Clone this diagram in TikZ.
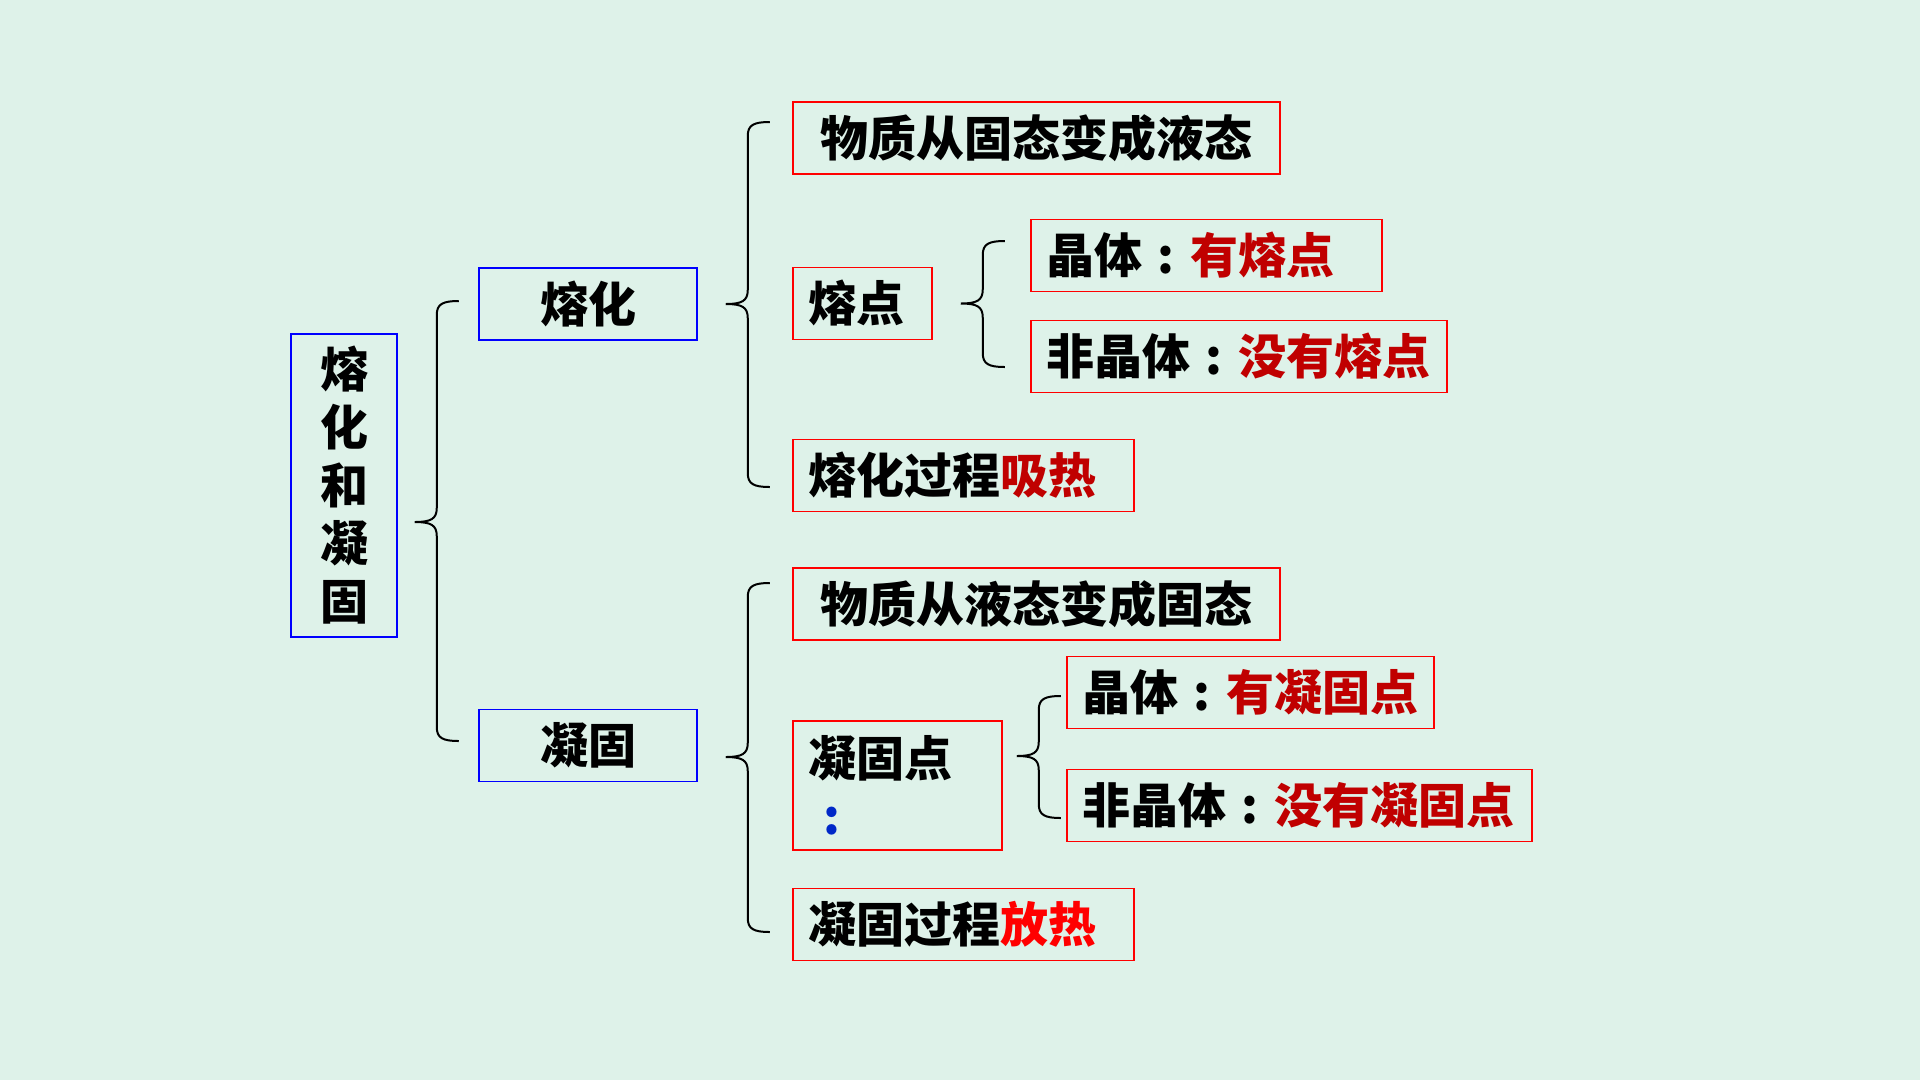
\documentclass[tikz,border=0pt]{standalone}
\usepackage{fontspec}
\setmainfont{Noto Sans CJK SC}[BoldFont={* Black}]
\usetikzlibrary{calc}

\definecolor{bgmint}{RGB}{222,242,233}
\definecolor{darkred}{RGB}{192,0,0}
\definecolor{colonblue}{RGB}{0,40,200}

\newcommand{\cn}{\makebox[1em]{:}}

\tikzset{
  every node/.style={font=\fontsize{48}{58}\selectfont\bfseries, inner ysep=0pt},
  bluebox/.style={draw=blue, line width=1.5pt, align=center, inner xsep=0pt},
  redbox/.style={draw=red, line width=1.5pt, minimum height=72pt, inner xsep=15pt, align=left},
  brace/.style={line width=2pt, black}
}

% parent, tip shift, top child, top shift, bottom child, bottom shift
\newcommand{\curly}[6]{%
\draw[brace] let \p1=($(#1.east)+(#2)$), \p2=($(#3.west)+(0,#4)$), \p3=($(#5.west)+(0,#6)$) in
(\x1,\y1) .. controls (\x1+16pt,\y1) and (\x1+22pt,\y1+3pt) .. (\x1+22pt,\y1+14pt)
-- (\x1+22pt,\y2-14pt) .. controls (\x1+22pt,\y2-3pt) and (\x1+28pt,\y2) .. (\x1+44pt,\y2)
(\x1,\y1) .. controls (\x1+16pt,\y1) and (\x1+22pt,\y1-3pt) .. (\x1+22pt,\y1-14pt)
-- (\x1+22pt,\y3+14pt) .. controls (\x1+22pt,\y3+3pt) and (\x1+28pt,\y3) .. (\x1+44pt,\y3);
}

\begin{document}
\begin{tikzpicture}[x=1pt, y=-1pt]

\fill[bgmint] (0,0) rectangle (1920,1080);
\useasboundingbox (0,0) rectangle (1920,1080);

\node[bluebox, minimum width=106pt, minimum height=303pt] (topic) at (344,485.5) {熔\\化\\和\\凝\\固};
\node[bluebox, minimum width=218pt, minimum height=72pt] (melt) at (588,304) {熔化};
\node[bluebox, minimum width=218pt, minimum height=72pt] (freeze) at (588,745.5) {凝固};

% melting
\node[redbox, text width=457pt, align=center] (meltdef) at (1036.5,138) {物质从固态变成液态};
\node[redbox, text width=109pt] (meltpt) at (862.5,303.5) {熔点};
\node[redbox, text width=321pt] (crys1) at (1206.5,255.5) {晶体\cn\textcolor{darkred}{有熔点}};
\node[redbox, text width=386pt] (amor1) at (1239,356.5) {非晶体\cn\textcolor{darkred}{没有熔点}};
\node[redbox, text width=311pt] (meltheat) at (963.5,475.5) {熔化过程\textcolor{darkred}{吸热}};

% freezing
\node[redbox, text width=457pt, align=center] (freezedef) at (1036.5,604) {物质从液态变成固态};
\node[redbox, text width=179pt, minimum height=129pt] (freezept) at (897.5,785.5) {凝固点\\\textcolor{colonblue}{\cn}};
\node[redbox, text width=337pt] (crys2) at (1250.5,692.5) {晶体\cn\textcolor{darkred}{有凝固点}};
\node[redbox, text width=435pt] (amor2) at (1299.5,805.5) {非晶体\cn\textcolor{darkred}{没有凝固点}};
\node[redbox, text width=311pt] (freezeheat) at (963.5,924.5) {凝固过程\textcolor{red}{放热}};

\curly{topic}{17,36.5}{melt}{-3}{freeze}{-4.5}
\curly{melt}{28,0}{meltdef}{-16}{meltheat}{11.5}
\curly{meltpt}{28,0}{crys1}{-14.5}{amor1}{10.5}
\curly{freeze}{28,11.5}{freezedef}{-21}{freezeheat}{7.5}
\curly{freezept}{14,-29.5}{crys2}{3.5}{amor2}{12.5}

\end{tikzpicture}
\end{document}
